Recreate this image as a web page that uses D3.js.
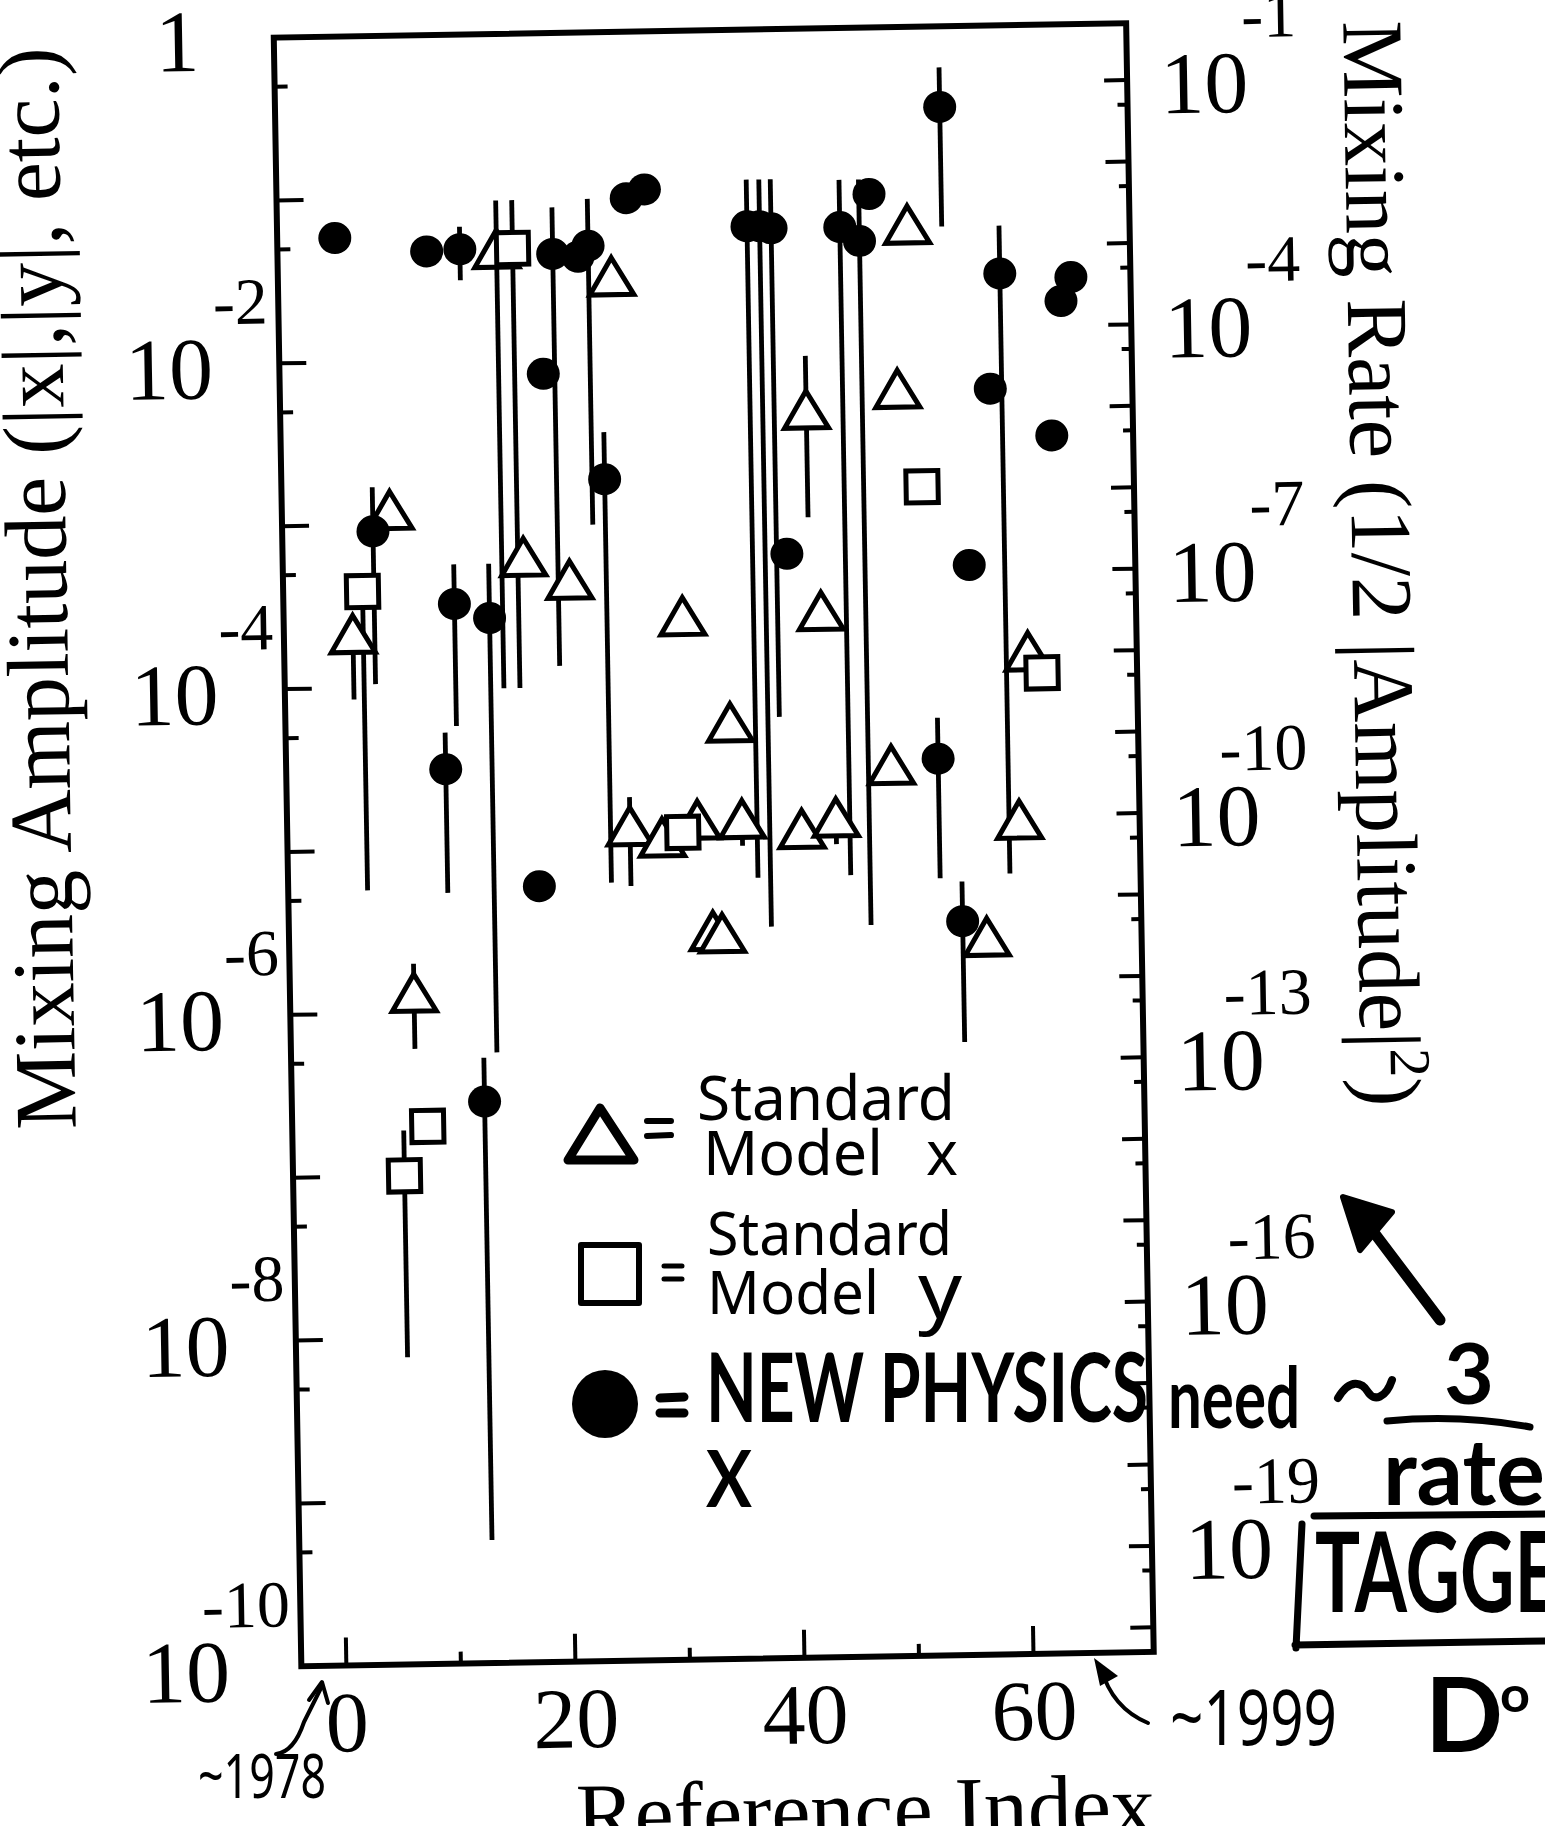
<!DOCTYPE html>
<meta charset="utf-8">
<title>Mixing Amplitude vs Reference Index</title>
<style>

body {
  margin: 0;
  background: #fff;
}

svg {
  display: block;
}

.frame {
  fill: none;
  stroke: #000;
  stroke-width: 6px;
}

.tick {
  stroke: #000;
  stroke-width: 4px;
}

.bar {
  stroke: #000;
  stroke-width: 4.8px;
}

.serif {
  font-family: "Liberation Serif", "Times New Roman", serif;
  fill: #000;
}

.hand {
  font-family: "Noto Sans", sans-serif;
  fill: #000;
}

.marker {
  font-family: "Lato", "Noto Sans", sans-serif;
  font-weight: bold;
  fill: #000;
}

.ink {
  fill: none;
  stroke: #000;
  stroke-linecap: round;
  stroke-linejoin: round;
}

</style>
<body>
<script src="https://cdn.jsdelivr.net/npm/d3@7"></script>
<script>

// tick values and labels
var xMajor = [0, 20, 40, 60],
    xMinor = [10, 30, 50],
    ampLabelExp = [0, -2, -4, -6, -8, -10],
    rateLabelExp = [-1, -4, -7, -10, -13, -16, -19];

// [reference index, amplitude, bar low, bar high]
var newPhysics = [
  [1.1, 5.8e-2], [9.1, 4.7e-2], [12.0, 4.8e-2, 3.1e-2, 6.6e-2],
  [20.1, 4.4e-2, 1.3e-4, 8.5e-2], [22.3, 4.2e-2], [23.2, 4.9e-2, 9.5e-4, 9.5e-2],
  [26.6, 9.5e-2], [28.2, 1.07e-1], [19.1, 8.1e-3],
  [24.3, 1.8e-3, 6.0e-6, 3.5e-3], [4.0, 9.1e-4, 1.05e-4, 1.7e-3],
  [11.0, 3.2e-4, 5.7e-5, 5.6e-4], [14.05, 2.6e-4, 5.6e-7, 5.6e-4],
  [37.1, 6.2e-2, 6.2e-6, 1.2e-1], [38.2, 6.2e-2, 3.1e-6, 1.2e-1],
  [39.2, 6.0e-2, 6.0e-5, 1.2e-1], [40.1, 6.0e-4],
  [45.2, 6.0e-2, 6.3e-6, 1.17e-1], [46.9, 4.9e-2, 3.1e-6, 1.17e-1], [47.8, 9.5e-2],
  [54.1, 3.2e-1, 5.9e-2, 5.6e-1], [59.1, 3.0e-2, 6.2e-6, 5.9e-2],
  [65.3, 2.8e-2], [64.4, 2.0e-2], [58.1, 5.9e-3], [63.4, 3.0e-3], [56.0, 4.9e-4],
  [53.0, 3.2e-5, 5.9e-6, 5.7e-5], [54.9, 3.2e-6, 5.8e-7, 5.6e-6],
  [10.0, 3.1e-5, 5.4e-6, 5.2e-5], [18.0, 5.8e-6], [12.9, 2.8e-7, 5.7e-10, 5.2e-7]
];

var standardX = [
  [15.2, 4.7e-2, 9.6e-5, 9.5e-2], [25.2, 3.1e-2], [5.5, 1.2e-3], [17.1, 6.0e-4],
  [21.1, 4.3e-4], [30.9, 2.5e-4], [34.9, 5.5e-5], [26.0, 1.3e-5, 5.7e-6, 2.0e-5],
  [28.8, 1.1e-5], [31.9, 1.4e-5, 9.8e-6, 1.4e-5], [35.8, 1.4e-5, 9.8e-6, 1.4e-5],
  [41.0, 1.2e-5], [44.0, 1.4e-5, 9.8e-6, 1.4e-5], [33.1, 2.9e-6], [33.9, 2.8e-6],
  [6.9, 1.3e-6, 6.0e-7, 2.0e-6], [42.0, 4.5e-3, 1.0e-3, 9.8e-3], [50.0, 5.9e-3],
  [51.1, 6.0e-2], [43.0, 2.6e-4], [48.9, 2.9e-5], [61.0, 1.4e-4], [60.0, 1.3e-5],
  [57.0, 2.5e-6], [2.1, 2.1e-4, 8.5e-5, 2.1e-4]
];

var standardY = [
  [16.6, 4.8e-2, 9.6e-5, 9.5e-2], [3.0, 3.9e-4, 5.7e-6, 3.9e-4], [7.9, 2.0e-7],
  [5.8, 1.0e-7, 7.7e-9, 1.9e-7], [52.0, 1.5e-3], [62.2, 1.05e-4], [30.6, 1.2e-5]
];

var w = 1545,
    h = 1826,
    plotL = 287.5,
    plotR = 1140,
    plotT = 30.3,
    plotB = 1659.2;

var x = d3.scaleLinear().domain([-3.93, 70.5]).range([plotL, plotR]),
    y = d3.scaleLog().domain([1e-10, 1]).range([plotB, plotT]),
    yRate = d3.scaleLog().domain([5e-21, 0.5]).range([plotB, plotT]);

var svg = d3.select("body").append("svg")
    .attr("width", w)
    .attr("height", h);

svg.append("rect")
    .attr("width", w)
    .attr("height", h)
    .attr("fill", "#fff");

// the scanned figure sits slightly rotated on the page
var g = svg.append("g")
    .attr("transform", "rotate(-0.97,714,845)");

// ticks
var ampMajor = d3.range(0, -11, -1).map(function(e) { return Math.pow(10, e); }),
    ampMinor = d3.range(-1, -11, -1).map(function(e) { return 5 * Math.pow(10, e); }),
    rateMajor = d3.range(-1, -21, -1).map(function(e) { return Math.pow(10, e); }),
    rateMinor = d3.range(-2, -22, -1).map(function(e) { return 5 * Math.pow(10, e); });

function hTicks(vals, scale, x0, len, cls) {
  g.selectAll("line." + cls)
      .data(vals)
    .enter().append("line")
      .attr("class", "tick " + cls)
      .attr("x1", x0)
      .attr("x2", x0 + len)
      .attr("y1", function(d) { return scale(d); })
      .attr("y2", function(d) { return scale(d); });
}

hTicks(ampMajor, y, plotL, 27, "lmaj");
hTicks(ampMinor, y, plotL, 13, "lmin");
hTicks(rateMajor, yRate, plotR, -23, "rmaj");
hTicks(rateMinor, yRate, plotR, -10, "rmin");

g.selectAll("line.xmaj")
    .data(xMajor.concat(xMinor))
  .enter().append("line")
    .attr("class", "tick xmaj")
    .attr("x1", function(d) { return x(d); })
    .attr("x2", function(d) { return x(d); })
    .attr("y1", plotB)
    .attr("y2", function(d) { return plotB - (d % 20 === 0 ? 28 : 12); });

g.append("rect")
    .attr("class", "frame")
    .attr("x", plotL)
    .attr("y", plotT)
    .attr("width", plotR - plotL)
    .attr("height", plotB - plotT);

// tick labels
ampLabelExp.forEach(function(e) {
  var ty = y(Math.pow(10, e));
  if (e === 0) {
    g.append("text").attr("class", "serif")
        .attr("x", 213).attr("y", ty + 32)
        .attr("text-anchor", "end")
        .style("font-size", "88px")
        .text("1");
    return;
  }
  g.append("text").attr("class", "serif")
      .attr("x", e <= -10 ? 216 : 221).attr("y", ty + 34)
      .attr("text-anchor", "end")
      .style("font-size", "88px")
      .text("10");
  g.append("text").attr("class", "serif")
      .attr("x", 277).attr("y", ty - 40)
      .attr("text-anchor", "end")
      .style("font-size", "66px")
      .text(String(e));
});

rateLabelExp.forEach(function(e) {
  var ty = yRate(Math.pow(10, e));
  g.append("text").attr("class", "serif")
      .attr("x", 1173).attr("y", ty + 34)
      .style("font-size", "88px")
      .text("10");
  g.append("text").attr("class", "serif")
      .attr("x", e <= -10 ? 1221 : 1255).attr("y", ty - 41)
      .style("font-size", "66px")
      .text(String(e));
});

g.selectAll("text.xl")
    .data(xMajor)
  .enter().append("text")
    .attr("class", "serif xl")
    .attr("x", function(d) { return x(d); })
    .attr("y", 1745)
    .attr("text-anchor", "middle")
    .style("font-size", "86px")
    .text(function(d) { return d; });

// axis titles
g.append("text")
    .attr("class", "serif")
    .attr("transform", "translate(71,577)rotate(-90)")
    .attr("text-anchor", "middle")
    .style("font-size", "88px")
    .text("Mixing Amplitude (|x|,|y|, etc.)");

var rt = g.append("text")
    .attr("class", "serif")
    .attr("transform", "translate(1357,575)rotate(90)")
    .attr("text-anchor", "middle")
    .style("font-size", "87px");
rt.append("tspan").text("Mixing Rate (1/2 |Amplitude|");
rt.append("tspan").attr("dy", -30).style("font-size", "58px").text("2");
rt.append("tspan").attr("dy", 30).text(")");

g.append("text")
    .attr("class", "serif")
    .attr("x", 849)
    .attr("y", 1842)
    .attr("text-anchor", "middle")
    .style("font-size", "88px")
    .text("Reference Index");

// error bars
var allBars = newPhysics.concat(standardX, standardY).filter(function(d) { return d.length > 2; });

g.selectAll("line.bar")
    .data(allBars)
  .enter().append("line")
    .attr("class", "bar")
    .attr("x1", function(d) { return x(d[0]); })
    .attr("x2", function(d) { return x(d[0]); })
    .attr("y1", function(d) { return y(d[2]); })
    .attr("y2", function(d) { return y(d[3]); });

// markers
g.selectAll("path.tri")
    .data(standardX)
  .enter().append("path")
    .attr("class", "tri")
    .attr("d", "M0,-20L22,17L-22,17Z")
    .attr("transform", function(d) { return "translate(" + x(d[0]) + "," + y(d[1]) + ")"; })
    .attr("fill", "#fff")
    .attr("stroke", "#000")
    .attr("stroke-width", 5)
    .attr("stroke-linejoin", "miter");

g.selectAll("rect.sq")
    .data(standardY)
  .enter().append("rect")
    .attr("class", "sq")
    .attr("x", function(d) { return x(d[0]) - 16; })
    .attr("y", function(d) { return y(d[1]) - 16; })
    .attr("width", 32)
    .attr("height", 32)
    .attr("fill", "#fff")
    .attr("stroke", "#000")
    .attr("stroke-width", 5);

g.selectAll("ellipse.np")
    .data(newPhysics)
  .enter().append("ellipse")
    .attr("class", "np")
    .attr("cx", function(d) { return x(d[0]); })
    .attr("cy", function(d) { return y(d[1]); })
    .attr("rx", 16.5)
    .attr("ry", 16)
    .attr("fill", "#000");

// hand-drawn legend and notes
var a = svg.append("g");

a.append("path").attr("class", "ink")
    .attr("d", "M600,1108L634,1160L568,1160Z")
    .attr("stroke-width", 9);
a.append("path").attr("class", "ink")
    .attr("d", "M647,1121L671,1121M647,1136L671,1135")
    .attr("stroke-width", 6);

a.append("rect").attr("class", "ink")
    .attr("x", 581).attr("y", 1245).attr("width", 58).attr("height", 58)
    .attr("stroke-width", 6);
a.append("path").attr("class", "ink")
    .attr("d", "M664,1266L682,1266M664,1279L682,1279")
    .attr("stroke-width", 5);

a.append("ellipse")
    .attr("cx", 605).attr("cy", 1404).attr("rx", 33).attr("ry", 34)
    .attr("fill", "#000");
a.append("path").attr("class", "ink")
    .attr("d", "M660,1398L684,1397M660,1413L684,1413")
    .attr("stroke-width", 9);

function note(cls, txt, xx, yy, size, len) {
  var t = a.append("text")
      .attr("class", cls)
      .attr("x", xx)
      .attr("y", yy)
      .style("font-size", size + "px")
      .text(txt);
  if (len) t.attr("textLength", len).attr("lengthAdjust", "spacingAndGlyphs");
  return t;
}

note("hand", "Standard", 697, 1120, 62, 258);
note("hand", "Model", 703, 1175, 62, 180);
note("hand", "x", 926, 1175, 62, 32);
note("hand", "Standard", 707, 1255, 60, 245);
note("hand", "Model", 707, 1314, 60, 172);
note("hand", "y", 918, 1318, 78, 44);
note("marker", "NEW PHYSICS", 706, 1422, 96, 442);
note("marker", "X", 706, 1507, 78, 46);
note("marker", "need", 1168, 1428, 84, 132);
note("marker", "3", 1444, 1404, 84, 50);
note("marker", "rate", 1383, 1505, 92, 162);
note("marker", "TAGGED", 1315, 1612, 112, 300);
note("hand", "~1999", 1170, 1745, 76, 167);
note("hand", "~1978", 198, 1798, 62, 128);
note("marker", "D", 1425, 1752, 104, 78);
note("marker", "o", 1500, 1712, 50, 30);

a.append("path").attr("class", "ink")
    .attr("d", "M1338,1398C1350,1378 1362,1382 1368,1392S1386,1398 1392,1380")
    .attr("stroke-width", 8);
a.append("path").attr("class", "ink")
    .attr("d", "M1387,1421Q1460,1414 1530,1427")
    .attr("stroke-width", 7);
a.append("path").attr("class", "ink")
    .attr("d", "M1314,1516L1545,1514M1302,1524L1296,1648M1295,1645L1545,1641")
    .attr("stroke-width", 7);

// arrows
a.append("path").attr("class", "ink")
    .attr("d", "M1440,1320L1360,1214")
    .attr("stroke-width", 11);
a.append("path")
    .attr("d", "M1343,1197L1392,1212L1360,1250Z")
    .attr("fill", "#000")
    .attr("stroke", "#000")
    .attr("stroke-width", 6)
    .attr("stroke-linejoin", "round");

a.append("path").attr("class", "ink")
    .attr("d", "M1148,1723Q1112,1708 1101,1668")
    .attr("stroke-width", 4);
a.append("path")
    .attr("d", "M1094,1658L1118,1676L1100,1686Z")
    .attr("fill", "#000");

a.append("path").attr("class", "ink")
    .attr("d", "M276,1754Q294,1752 304,1722L322,1686")
    .attr("stroke-width", 4);
a.append("path").attr("class", "ink")
    .attr("d", "M309,1700L322,1682L328,1703")
    .attr("stroke-width", 4);

</script>
